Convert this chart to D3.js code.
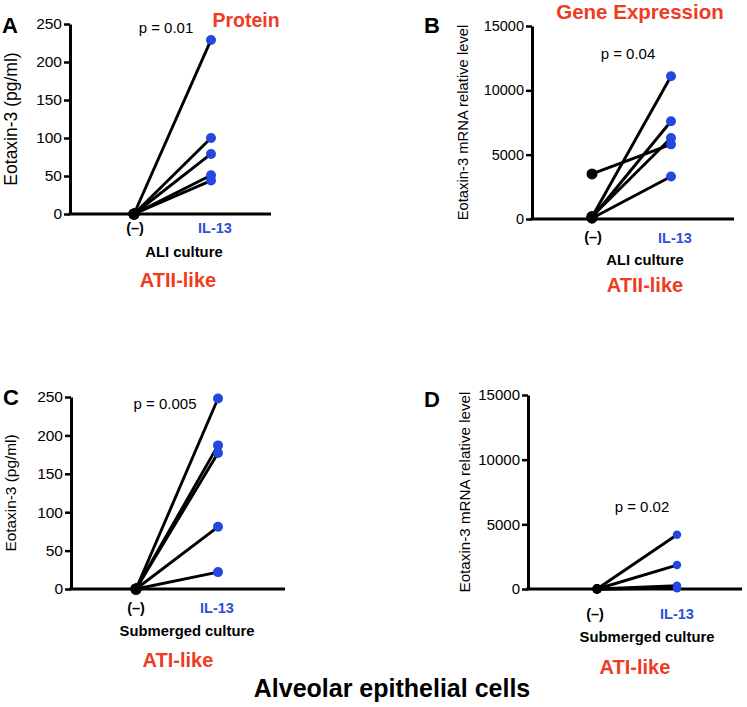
<!DOCTYPE html>
<html>
<head>
<meta charset="utf-8">
<script src="https://cdn.jsdelivr.net/npm/d3@7/dist/d3.min.js"></script>
<style>
  html, body { margin: 0; padding: 0; background: #fff; }
  svg { display: block; font-family: "Liberation Sans", Arial, Helvetica, sans-serif; }
</style>
</head>
<body>
<svg id="chart" width="747" height="707"></svg>
<script>
// ---------------- data ----------------
const categories = ["(\u2013)", "IL-13"];
const proteinTicks = [0, 50, 100, 150, 200, 250];
const mrnaTicks = [0, 5000, 10000, 15000];

// Panel A: protein, ALI culture
const aControl = [0, 0, 0, 0, 0];
const aIL13 = [229, 100, 79, 51, 44];
// Panel B: mRNA, ALI culture
const bControl = [3500, 150, 100, 200, 60];
const bIL13 = [5800, 11100, 7600, 6300, 3300];
// Panel C: protein, submerged culture
const cControl = [0, 0, 0, 0, 0];
const cIL13 = [248, 187, 177, 81, 22];
// Panel D: mRNA, submerged culture
const dControl = [0, 0, 0, 0, 0];
const dIL13 = [4200, 1850, 250, 120, 60];

const pValues = ["p = 0.01", "p = 0.04", "p = 0.005", "p = 0.02"];
const panelLetters = ["A", "B", "C", "D"];
const cultureLabels = ["ALI culture", "ALI culture", "Submerged culture", "Submerged culture"];
const cellLabels = ["ATII-like", "ATII-like", "ATI-like", "ATI-like"];
const yLabels = ["Eotaxin-3 (pg/ml)", "Eotaxin-3 mRNA relative level", "Eotaxin-3 (pg/ml)", "Eotaxin-3 mRNA relative level"];
const sectionTitles = ["Protein", "Gene Expression"];
const mainTitle = "Alveolar epithelial cells";

// ---------------- style ----------------
const RED = "#ef3b1f";
const BLUE_TEXT = "#2f4fd6";
const BLUE_DOT = "#2447e0";

const svg = d3.select("#chart");

const panels = [
  { letter: panelLetters[0], control: aControl, il13: aIL13, ticks: proteinTicks, max: 250,
    axisX: 70, y0: 214, yTop: 24, xEnd: 271, c0: 134, c1: 211, tickFont: 15.5,
    yLabel: yLabels[0], yLabelX: 17, yLabelFont: 17.5,
    p: pValues[0], pX: 166, pY: 33,
    catY: [233, 233], catDx: [1, 4], culture: cultureLabels[0], cultureX: 184, cultureY: 257,
    cell: cellLabels[0], cellX: 178, cellY: 287, letterX: 2, letterY: 33, dotR: 5 },
  { letter: panelLetters[1], control: bControl, il13: bIL13, ticks: mrnaTicks, max: 15000,
    axisX: 532, y0: 219, yTop: 26, xEnd: 734, c0: 592, c1: 671, tickFont: 14.5,
    yLabel: yLabels[1], yLabelX: 468, yLabelFont: 14.8,
    p: pValues[1], pX: 628, pY: 59,
    catY: [242, 243], catDx: [1, 4], culture: cultureLabels[1], cultureX: 645, cultureY: 265,
    cell: cellLabels[1], cellX: 645, cellY: 292, letterX: 424, letterY: 33, dotR: 5 },
  { letter: panelLetters[2], control: cControl, il13: cIL13, ticks: proteinTicks, max: 250,
    axisX: 71, y0: 589, yTop: 397, xEnd: 285, c0: 136, c1: 218, tickFont: 15.5,
    yLabel: yLabels[2], yLabelX: 16, yLabelFont: 15.4,
    p: pValues[2], pX: 165, pY: 409,
    catY: [613, 613], catDx: [0, -1], culture: cultureLabels[2], cultureX: 187, cultureY: 636,
    cell: cellLabels[2], cellX: 178, cellY: 667, letterX: 3, letterY: 405, dotR: 5 },
  { letter: panelLetters[3], control: dControl, il13: dIL13, ticks: mrnaTicks, max: 15000,
    axisX: 528, y0: 589, yTop: 395, xEnd: 742, c0: 597, c1: 677, tickFont: 15,
    yLabel: yLabels[3], yLabelX: 470, yLabelFont: 15.2,
    p: pValues[3], pX: 642, pY: 512,
    catY: [619, 619], catDx: [-2, 0], culture: cultureLabels[3], cultureX: 647, cultureY: 642,
    cell: cellLabels[3], cellX: 635, cellY: 674, letterX: 424, letterY: 407, dotR: 4.2 }
];

panels.forEach(p => {
  const g = svg.append("g");
  const y = d3.scaleLinear().domain([0, p.max]).range([p.y0, p.yTop]);
  const x = d3.scalePoint().domain(categories).range([p.c0, p.c1]);

  // y axis
  const ay = g.append("g")
    .attr("transform", `translate(${p.axisX},0)`)
    .call(d3.axisLeft(y).tickValues(p.ticks).tickSize(6).tickSizeOuter(0).tickPadding(2).tickFormat(d3.format("d")));
  ay.select(".domain").attr("stroke", "#000").attr("stroke-width", 3);
  ay.selectAll(".tick line").attr("stroke", "#000").attr("stroke-width", 2.5);
  ay.selectAll(".tick text").attr("fill", "#000").attr("font-size", p.tickFont)
    .attr("font-family", "'Liberation Sans', Arial, sans-serif");

  // x axis line
  g.append("line")
    .attr("x1", p.axisX - 1.5).attr("x2", p.xEnd)
    .attr("y1", y(0)).attr("y2", y(0))
    .attr("stroke", "#000").attr("stroke-width", 3);

  // paired lines
  const pairs = p.control.map((c, i) => ({ c: c, t: p.il13[i] }));
  g.selectAll("line.pair").data(pairs).enter().append("line")
    .attr("class", "pair")
    .attr("x1", x(categories[0])).attr("y1", d => y(d.c))
    .attr("x2", x(categories[1])).attr("y2", d => y(d.t))
    .attr("stroke", "#000").attr("stroke-width", 2.9);

  // IL-13 dots
  g.selectAll("circle.il").data(p.il13).enter().append("circle")
    .attr("class", "il")
    .attr("cx", x(categories[1])).attr("cy", d => y(d))
    .attr("r", p.dotR).attr("fill", BLUE_DOT);
  // control dots
  g.selectAll("circle.ct").data(p.control).enter().append("circle")
    .attr("class", "ct")
    .attr("cx", x(categories[0])).attr("cy", d => y(d))
    .attr("r", p.dotR + 0.5).attr("fill", "#000");

  // category labels
  categories.forEach((c, i) => {
    g.append("text")
      .attr("x", x(c) + p.catDx[i]).attr("y", p.catY[i])
      .attr("text-anchor", "middle")
      .attr("font-size", 14.5).attr("font-weight", "bold")
      .attr("fill", i === 0 ? "#000" : BLUE_TEXT)
      .text(c);
  });

  g.append("text").attr("x", p.cultureX).attr("y", p.cultureY)
    .attr("text-anchor", "middle").attr("font-size", 14.8).attr("font-weight", "bold")
    .attr("fill", "#000").text(p.culture);

  g.append("text").attr("x", p.cellX).attr("y", p.cellY)
    .attr("text-anchor", "middle").attr("font-size", 20).attr("font-weight", "bold")
    .attr("fill", RED).text(p.cell);

  // p value
  g.append("text").attr("x", p.pX).attr("y", p.pY)
    .attr("text-anchor", "middle").attr("font-size", 15).attr("fill", "#000").text(p.p);

  // y label
  g.append("text")
    .attr("transform", `translate(${p.yLabelX},${(p.y0 + p.yTop) / 2}) rotate(-90)`)
    .attr("text-anchor", "middle").attr("font-size", p.yLabelFont).attr("fill", "#000")
    .text(p.yLabel);

  // panel letter
  g.append("text").attr("x", p.letterX).attr("y", p.letterY)
    .attr("font-size", 22).attr("font-weight", "bold").attr("fill", "#000").text(p.letter);
});

// section titles
svg.append("text").attr("x", 246).attr("y", 27).attr("text-anchor", "middle")
  .attr("font-size", 19.5).attr("font-weight", "bold").attr("fill", RED).text(sectionTitles[0]);
svg.append("text").attr("x", 640).attr("y", 19).attr("text-anchor", "middle")
  .attr("font-size", 20.5).attr("font-weight", "bold").attr("fill", RED).text(sectionTitles[1]);

// main title
svg.append("text").attr("x", 392).attr("y", 697).attr("text-anchor", "middle")
  .attr("font-size", 25).attr("font-weight", "bold").attr("fill", "#000").text(mainTitle);
</script>
</body>
</html>
